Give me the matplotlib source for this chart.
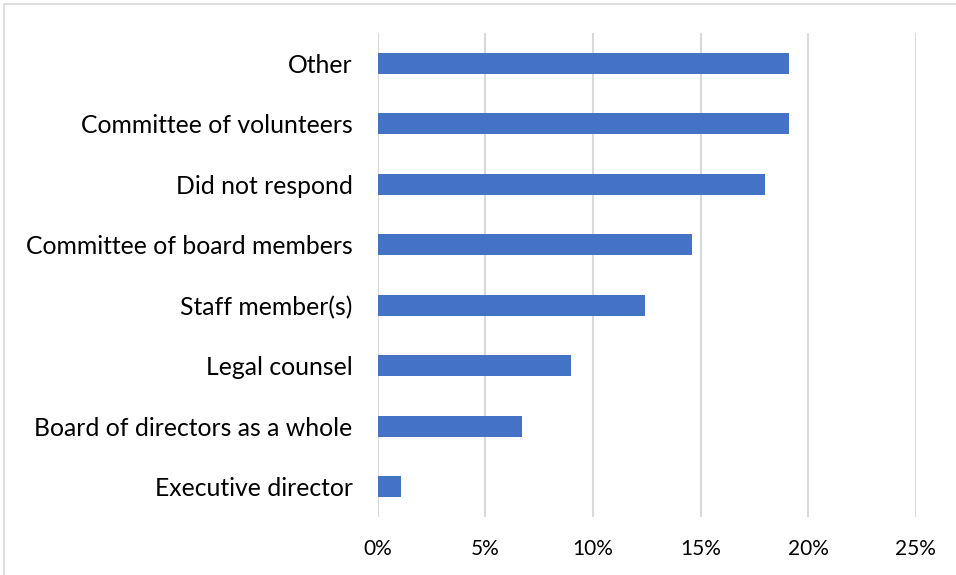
import matplotlib.pyplot as plt
from matplotlib.patches import Rectangle
from matplotlib.ticker import FuncFormatter

categories = [
    "Executive director",
    "Board of directors as a whole",
    "Legal counsel",
    "Staff member(s)",
    "Committee of board members",
    "Did not respond",
    "Committee of volunteers",
    "Other",
]
shares = [1.1, 6.7, 9.0, 12.4, 14.6, 18.0, 19.1, 19.1]
x_ticks = [0, 5, 10, 15, 20, 25]

plt.rcParams['font.family'] = ['Lato', 'DejaVu Sans']

fig = plt.figure(figsize=(9.56, 5.75), dpi=100)
ax = fig.add_axes([0.395, 0.1009, 0.563, 0.8417])

# light grey chart border
fig.patches.append(Rectangle((4 / 956, -0.05), 1.2, 1.05 - 4.5 / 575,
                             transform=fig.transFigure, fill=False,
                             edgecolor='#d9d9d9', linewidth=1.2))

ax.barh(range(len(categories)), shares, height=0.35, color='#4472c4',
        zorder=3)

ax.set_xlim(0, 25)
ax.set_ylim(-0.5, len(categories) - 0.5)
ax.set_xticks(x_ticks)
ax.xaxis.set_major_formatter(FuncFormatter(lambda v, p: f"{int(v)}%"))
ax.set_yticks(range(len(categories)))
ax.set_yticklabels(categories)

ax.grid(axis='x', color='#d9d9d9', linewidth=1.5, zorder=0)
for s in ax.spines.values():
    s.set_visible(False)
ax.tick_params(axis='both', length=0, colors='black')
ax.tick_params(axis='y', pad=18, labelsize=17.8)
ax.tick_params(axis='x', pad=16, labelsize=15)

fig.savefig('out.png', dpi=100)
